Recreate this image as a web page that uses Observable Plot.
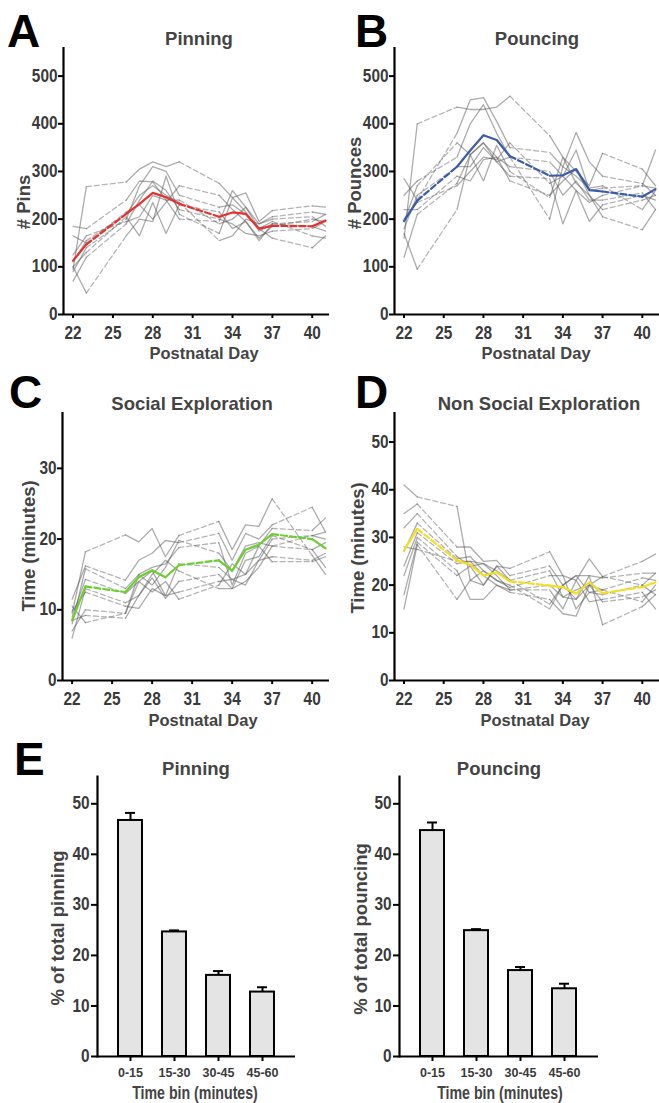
<!DOCTYPE html>
<html><head><meta charset="utf-8">
<script src="https://cdn.jsdelivr.net/npm/d3@7"></script>
<script src="https://cdn.jsdelivr.net/npm/@observablehq/plot@0.6"></script>
<style>
body{margin:0;background:#fff;}
#root{position:relative;width:659px;height:1103px;overflow:hidden;font-family:"Liberation Sans",Arial,sans-serif;}
</style></head><body><div id="root"></div>
<script>
// ---------- DATA ----------
const days = [22,23,26,27,28,29,30,33,34,35,36,37,40,41];
const dayTicks = [22,25,28,31,34,37,40];

const pinsMean = [113,147,211,232,255,246,232,205,214,211,180,186,185,197];
const pinsAnimals = [
  [95,268,278,305,320,310,320,275,245,255,195,218,228,225],
  [185,180,240,280,278,240,200,195,260,225,190,205,215,210],
  [165,150,215,230,200,235,270,250,220,195,160,185,200,195],
  [100,130,205,165,235,170,230,215,180,195,155,190,185,175],
  [90,140,200,270,310,300,250,225,230,210,180,195,165,160],
  [70,120,190,240,280,260,220,200,190,170,165,175,180,195],
  [125,165,195,205,250,240,240,190,200,225,180,160,140,165],
  [100,45,165,200,195,290,210,170,245,215,175,190,195,210],
  [110,155,210,250,270,250,235,155,165,200,190,200,205,185]
];

const pouncesMean = [196,239,310,344,376,366,332,291,292,305,261,258,247,263];
const pouncesAnimals = [
  [160,400,435,430,430,435,458,375,330,300,270,338,305,270],
  [285,240,380,450,455,405,350,340,310,382,320,290,275,250],
  [250,280,330,400,440,380,330,320,290,345,260,265,270,345],
  [195,270,360,335,360,330,310,300,250,280,240,240,255,220],
  [180,250,310,310,350,320,290,285,190,260,195,230,250,240],
  [220,220,290,280,325,330,280,250,280,305,250,220,240,250],
  [120,210,275,335,280,355,300,245,330,275,250,205,178,220],
  [170,95,220,335,360,320,330,200,310,290,265,270,220,260],
  [200,235,270,300,330,325,360,275,290,260,235,250,270,265]
];

const socialMean = [8.5,13.3,12.5,14.6,15.6,14.6,16.3,17.0,15.5,18.5,19.2,20.7,20.0,18.7];
const socialAnimals = [
  [9.5,18.2,20.6,19.6,21.5,17.5,20.5,22.5,18.5,22,21.8,25.7,17.7,15],
  [11.5,16.2,14.2,17,18,19.8,19.5,20.8,17,20.8,20,22,24.5,21],
  [8,15.8,13,15,16,16.5,18.8,19.5,13.5,18,19,21.5,21.2,23],
  [9,14.3,12.3,14,15.5,12,16.5,16,14.3,15,17,20,20.5,20],
  [6,13,11,12,14.5,11.6,14,15,13,14,16,19,18.5,16],
  [9.8,12.5,10.5,10.2,13,12,12.5,14,14.3,13.5,17,17.5,17,18],
  [7,10,9.5,14,12.5,14,11.5,13.5,16.5,15,19,16.8,16.8,17.5],
  [8.5,9.2,8.8,12,15,17,15.5,13,13,17,17.5,20.5,18.5,19.5],
  [10.5,8.2,9.5,15,13.5,16,19.8,18,15.5,19,19.5,19,20.5,21]
];

const nonSocialMean = [27.3,31.8,25.2,24.3,22.0,22.7,20.8,19.9,19.6,18.2,20.6,18.3,19.6,20.6];
const nonSocialAnimals = [
  [41,38.5,36.5,21,20,24,23.5,27,22,21,25.5,21.8,25,26.5],
  [35,37,28,28,25,25.2,22,24,20,22,22,21.5,22.5,22.5],
  [32,35,26,24,24.5,23,21,23,17.5,17,20,19,21.5,21],
  [27,33,25.5,26,23,21,19.5,22,22,15,18.5,18,20,18],
  [24,31,24.5,25,22,20,19,19,15,21,16.5,17,18.5,15],
  [22,30,23,17,17,20,18.5,17,14,13.5,20,16.5,17.5,19],
  [18,29,22,24,20,24,21,16,20,17,22,11.7,15.5,18],
  [15,28.5,17,21,23,21,20,15,20,22,18.5,19,16.5,20],
  [28,27.5,25,25,24.5,22,19,20,17.5,19,20,21.8,20,22.5]
];

const timeBins = ["0-15","15-30","30-45","45-60"];
const pinningPct = [46.7,24.65,16.05,12.75];
const pinningErr = [1.5,0.3,0.85,0.95];
const pouncingPct = [44.7,24.9,17.0,13.4];
const pouncingErr = [1.6,0.3,0.7,1.0];

// ---------- HELPERS ----------
const FONT = '"Liberation Sans", Arial, sans-serif';
const root = document.getElementById("root");
const TICKCOL = "#3a3a3a";

function condense(svg, k) {
  // narrow the tick label glyphs horizontally, like the reference's condensed digits
  svg.querySelectorAll('g[aria-label$="tick label"] text').forEach(t => {
    const tr = t.getAttribute("transform") || "";
    t.setAttribute("transform", tr + ` scale(${k},1)`);
  });
}

function place(svg, left, top) {
  svg.style.position = "absolute";
  svg.style.left = left + "px";
  svg.style.top = top + "px";
  root.appendChild(svg);
}

function toSegments(values, id) {
  const solid = [], dashed = [];
  let run = 0;
  for (let i = 0; i < days.length; i++) {
    if (i > 0 && days[i] - days[i-1] > 1) {
      const g = id + "-d" + i;
      dashed.push({day: days[i-1], v: values[i-1], g}, {day: days[i], v: values[i], g});
      run++;
    }
    solid.push({day: days[i], v: values[i], g: id + "-s" + run});
  }
  return {solid, dashed};
}

const XDOM = [21.28, 41.3];

function linePanel(o) {
  const gs = [], gd = [];
  o.animals.forEach((a, k) => { const s = toSegments(a, "a" + k); gs.push(...s.solid); gd.push(...s.dashed); });
  const m = toSegments(o.mean, "m");
  const svg = Plot.plot({
    width: o.width, height: o.height,
    marginLeft: o.ml, marginRight: o.mr, marginTop: o.mt, marginBottom: o.mb,
    style: `font-family:${FONT};font-size:17px;font-weight:bold;color:${TICKCOL};background:none;overflow:visible;`,
    x: {domain: XDOM},
    y: {domain: [0, o.yMax]},
    marks: [
      Plot.line(gs, {x: "day", y: "v", z: "g", stroke: "#5a5a5a", strokeOpacity: 0.5, strokeWidth: 1.3}),
      Plot.line(gd, {x: "day", y: "v", z: "g", stroke: "#5a5a5a", strokeOpacity: 0.45, strokeWidth: 1.3, strokeDasharray: "5,3"}),
      Plot.line(m.solid, {x: "day", y: "v", z: "g", stroke: o.color, strokeWidth: 2.2}),
      Plot.line(m.dashed, {x: "day", y: "v", z: "g", stroke: o.color, strokeWidth: 2.2, strokeDasharray: "6,3"}),
      Plot.axisX({ticks: dayTicks, tickSize: 4, tickPadding: 8, stroke: "black", strokeWidth: 2, fill: TICKCOL, label: null, fontSize: 17.5}),
      Plot.axisY({ticks: o.yTicks, tickSize: 5, tickPadding: 1, stroke: "black", strokeWidth: 2, fill: TICKCOL, label: null, fontSize: 17.5}),
      Plot.ruleX([XDOM[0]], {stroke: "black", strokeWidth: 2.2}),
      Plot.ruleY([0], {stroke: "black", strokeWidth: 2.2})
    ]
  });
  condense(svg, 0.88);
  place(svg, o.left, o.top);
}

function barPanel(o) {
  const data = timeBins.map((b, i) => ({bin: b, v: o.values[i], e: o.values[i] + o.err[i]}));
  const svg = Plot.plot({
    width: o.width, height: o.height,
    marginLeft: o.ml, marginRight: o.mr, marginTop: o.mt, marginBottom: o.mb,
    style: `font-family:${FONT};font-size:17px;font-weight:bold;color:${TICKCOL};background:none;overflow:visible;`,
    x: {domain: timeBins, padding: 0.45},
    y: {domain: [0, 55.4]},
    marks: [
      Plot.ruleX(data, {x: "bin", y1: "v", y2: "e", stroke: "black", strokeWidth: 2}),
      Plot.tickY(data, {x: "bin", y: "e", stroke: "black", strokeWidth: 2, insetLeft: 7, insetRight: 7}),
      Plot.barY(data, {x: "bin", y: "v", fill: "#e4e4e4", stroke: "black", strokeWidth: 2}),
      Plot.axisX({tickSize: 5, tickPadding: 7, fontSize: 12.5, stroke: "black", strokeWidth: 2, fill: TICKCOL, label: null}),
      Plot.axisY({ticks: [0,10,20,30,40,50], tickSize: 6, tickPadding: 2, stroke: "black", strokeWidth: 2, fill: TICKCOL, label: null, fontSize: 17.5}),
      Plot.frame({anchor: "left", stroke: "black", strokeWidth: 2.2}),
      Plot.ruleY([0], {stroke: "black", strokeWidth: 2.2})
    ]
  });
  svg.querySelectorAll('g[aria-label="y-axis tick label"] text').forEach(t => {
    t.setAttribute("transform", (t.getAttribute("transform") || "") + " scale(0.88,1)");
  });
  place(svg, o.left, o.top);
}

// ---------- PANELS ----------
linePanel({animals: pinsAnimals, mean: pinsMean, color: "#e8302e", yMax: 560, yTicks: [0,100,200,300,400,500],
  left: 0, top: 0, width: 330, height: 345, ml: 63, mr: 1, mt: 47, mb: 31});
linePanel({animals: pouncesAnimals, mean: pouncesMean, color: "#3b5bab", yMax: 560, yTicks: [0,100,200,300,400,500],
  left: 330, top: 0, width: 329, height: 345, ml: 64, mr: 0, mt: 47, mb: 31});
linePanel({animals: socialAnimals, mean: socialMean, color: "#6ccf2f", yMax: 37.9, yTicks: [0,10,20,30],
  left: 0, top: 370, width: 330, height: 340, ml: 62, mr: 1, mt: 42, mb: 30});
linePanel({animals: nonSocialAnimals, mean: nonSocialMean, color: "#f0e020", yMax: 56.2, yTicks: [0,10,20,30,40,50],
  left: 330, top: 370, width: 329, height: 340, ml: 64, mr: 0, mt: 42, mb: 30});
barPanel({values: pinningPct, err: pinningErr, left: 0, top: 760, width: 330, height: 343, ml: 97, mr: 35, mt: 16, mb: 47});
barPanel({values: pouncingPct, err: pouncingErr, left: 330, top: 760, width: 329, height: 343, ml: 69, mr: 61, mt: 16, mb: 47});

// ---------- TEXT OVERLAY ----------
const ov = d3.create("svg").attr("width", 659).attr("height", 1103)
  .style("position", "absolute").style("left", "0px").style("top", "0px")
  .style("pointer-events", "none").style("font-family", FONT).style("font-weight", "bold");

const letters = [["A",7,47],["B",355,47],["C",9,408],["D",355,408],["E",14,775]];
letters.forEach(([t,x,y]) => ov.append("text").attr("x", x).attr("y", y).attr("font-size", 46).attr("fill", "black").text(t));

const titles = [["Pinning",199,45],["Pouncing",537,45],["Social Exploration",192,410],["Non Social Exploration",539,410],["Pinning",196,775],["Pouncing",499,775]];
titles.forEach(([t,x,y]) => ov.append("text").attr("x", x).attr("y", y).attr("font-size", 18.5).attr("text-anchor", "middle").attr("fill", "#444").text(t));

const xlabels = [["Postnatal Day",204,359,16.5,1],["Postnatal Day",536,359,16.5,1],["Postnatal Day",203,726,16.5,1],["Postnatal Day",535,726,16.5,1],["Time bin (minutes)",195,1099,17.5,0.81],["Time bin (minutes)",500,1099,17.5,0.81]];
xlabels.forEach(([t,x,y,s,k]) => ov.append("text").attr("transform", `translate(${x},${y}) scale(${k},1)`).attr("font-size", s).attr("text-anchor", "middle").attr("fill", "#444").text(t));

const ylabels = [["# Pins",24,202],["# Pounces",355,183],["Time (minutes)",29,546],["Time (minutes)",358,548],["% of total pinning",58,928],["% of total pouncing",361,929]];
ylabels.forEach(([t,x,y]) => ov.append("text").attr("transform", `translate(${x},${y}) rotate(-90)`).attr("dy", "0.35em")
  .attr("font-size", 18.5).attr("text-anchor", "middle").attr("fill", "#444").text(t));

root.appendChild(ov.node());
</script></body></html>
